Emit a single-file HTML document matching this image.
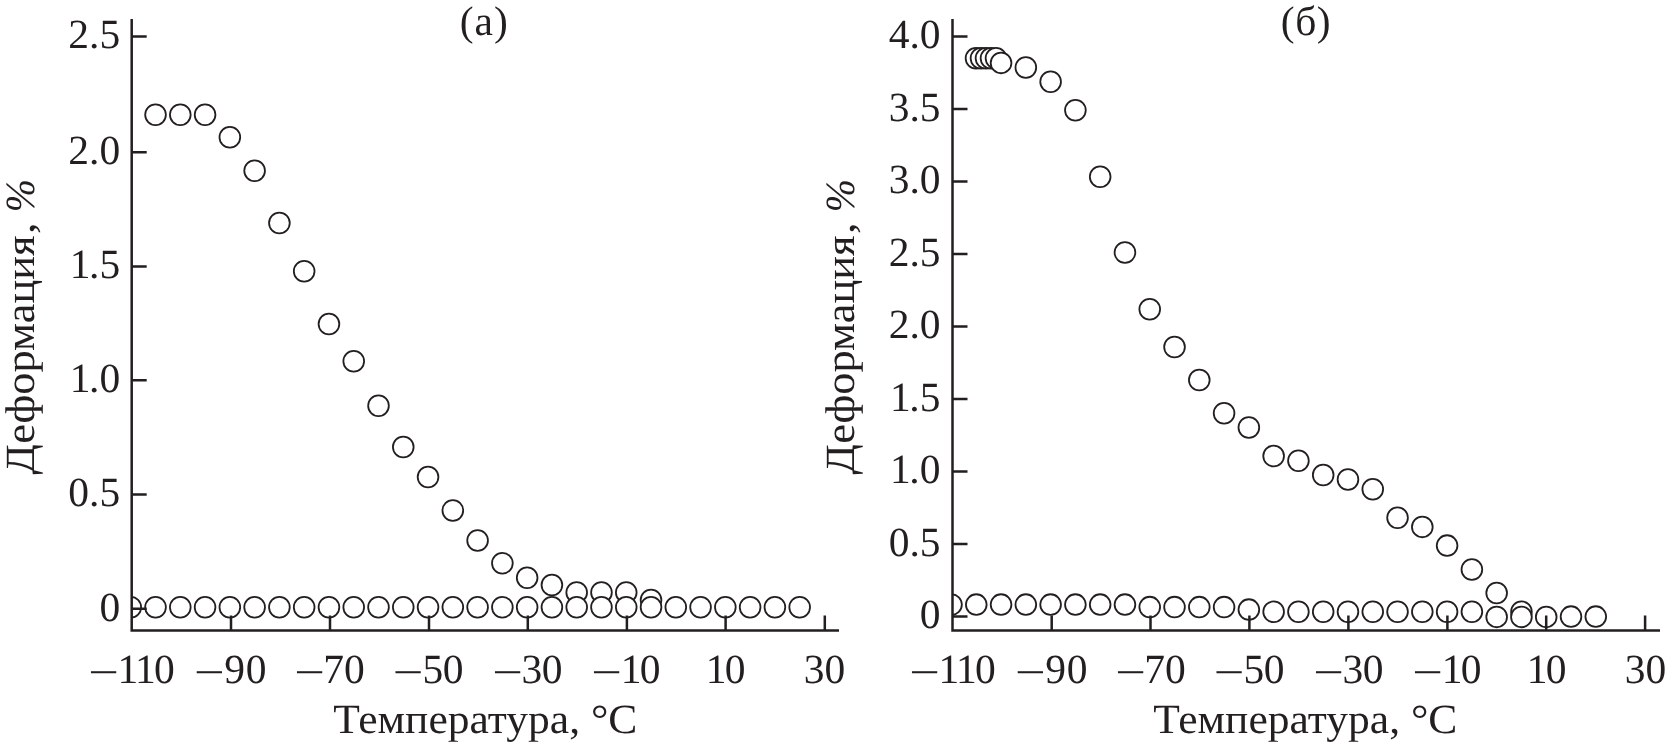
<!DOCTYPE html>
<html lang="ru"><head><meta charset="utf-8"><title>Деформация — Температура</title>
<style>html,body{margin:0;padding:0;background:#fff}body{width:1666px;height:746px;overflow:hidden}svg{display:block;will-change:transform}text{font-family:"Liberation Serif","Times New Roman",serif;font-size:41.5px;fill:#231f20;-webkit-font-smoothing:antialiased;text-rendering:geometricPrecision}.ax{stroke:#231f20;stroke-width:2.5;fill:none}.pt circle{fill:#fff;stroke:#231f20;stroke-width:1.8}</style></head><body>
<svg width="1666" height="746" viewBox="0 0 1666 746">
<rect width="1666" height="746" fill="#fff"/>
<defs><clipPath id="ca"><rect x="131.7" y="0" width="720" height="640"/></clipPath><clipPath id="cb"><rect x="952.5" y="0" width="720" height="640"/></clipPath></defs>
<g class="pt" clip-path="url(#ca)">
<circle cx="155.53" cy="114.75" r="10.35"/>
<circle cx="180.30" cy="114.75" r="10.35"/>
<circle cx="205.07" cy="114.75" r="10.35"/>
<circle cx="229.85" cy="137.25" r="10.35"/>
<circle cx="254.62" cy="170.75" r="10.35"/>
<circle cx="279.40" cy="223.00" r="10.35"/>
<circle cx="304.17" cy="271.25" r="10.35"/>
<circle cx="328.95" cy="324.00" r="10.35"/>
<circle cx="353.73" cy="361.25" r="10.35"/>
<circle cx="378.50" cy="405.75" r="10.35"/>
<circle cx="403.27" cy="447.00" r="10.35"/>
<circle cx="428.05" cy="477.00" r="10.35"/>
<circle cx="452.82" cy="510.50" r="10.35"/>
<circle cx="477.60" cy="540.50" r="10.35"/>
<circle cx="502.38" cy="563.25" r="10.35"/>
<circle cx="527.15" cy="577.75" r="10.35"/>
<circle cx="551.92" cy="585.00" r="10.35"/>
<circle cx="576.70" cy="592.40" r="10.35"/>
<circle cx="601.47" cy="592.40" r="10.35"/>
<circle cx="626.25" cy="592.40" r="10.35"/>
<circle cx="651.02" cy="600.00" r="10.35"/>
<circle cx="130.75" cy="607.30" r="10.35"/>
<circle cx="155.53" cy="607.30" r="10.35"/>
<circle cx="180.30" cy="607.30" r="10.35"/>
<circle cx="205.07" cy="607.30" r="10.35"/>
<circle cx="229.85" cy="607.30" r="10.35"/>
<circle cx="254.62" cy="607.30" r="10.35"/>
<circle cx="279.40" cy="607.30" r="10.35"/>
<circle cx="304.17" cy="607.30" r="10.35"/>
<circle cx="328.95" cy="607.30" r="10.35"/>
<circle cx="353.73" cy="607.30" r="10.35"/>
<circle cx="378.50" cy="607.30" r="10.35"/>
<circle cx="403.27" cy="607.30" r="10.35"/>
<circle cx="428.05" cy="607.30" r="10.35"/>
<circle cx="452.82" cy="607.30" r="10.35"/>
<circle cx="477.60" cy="607.30" r="10.35"/>
<circle cx="502.38" cy="607.30" r="10.35"/>
<circle cx="527.15" cy="607.30" r="10.35"/>
<circle cx="551.92" cy="607.30" r="10.35"/>
<circle cx="576.70" cy="607.30" r="10.35"/>
<circle cx="601.47" cy="607.30" r="10.35"/>
<circle cx="626.25" cy="607.30" r="10.35"/>
<circle cx="651.02" cy="607.30" r="10.35"/>
<circle cx="675.80" cy="607.30" r="10.35"/>
<circle cx="700.57" cy="607.30" r="10.35"/>
<circle cx="725.35" cy="607.30" r="10.35"/>
<circle cx="750.12" cy="607.30" r="10.35"/>
<circle cx="774.90" cy="607.30" r="10.35"/>
<circle cx="799.67" cy="607.30" r="10.35"/>
</g>
<g class="pt" clip-path="url(#cb)">
<circle cx="976.00" cy="58.20" r="10.35"/>
<circle cx="981.00" cy="58.20" r="10.35"/>
<circle cx="986.00" cy="58.20" r="10.35"/>
<circle cx="991.00" cy="58.20" r="10.35"/>
<circle cx="996.00" cy="58.20" r="10.35"/>
<circle cx="1001.06" cy="62.90" r="10.35"/>
<circle cx="1025.84" cy="67.50" r="10.35"/>
<circle cx="1050.62" cy="81.70" r="10.35"/>
<circle cx="1075.40" cy="110.30" r="10.35"/>
<circle cx="1100.18" cy="176.75" r="10.35"/>
<circle cx="1124.96" cy="252.50" r="10.35"/>
<circle cx="1149.74" cy="309.25" r="10.35"/>
<circle cx="1174.52" cy="347.00" r="10.35"/>
<circle cx="1199.30" cy="380.00" r="10.35"/>
<circle cx="1224.08" cy="413.25" r="10.35"/>
<circle cx="1248.86" cy="427.50" r="10.35"/>
<circle cx="1273.64" cy="456.00" r="10.35"/>
<circle cx="1298.42" cy="460.75" r="10.35"/>
<circle cx="1323.20" cy="475.00" r="10.35"/>
<circle cx="1347.98" cy="479.50" r="10.35"/>
<circle cx="1372.76" cy="489.25" r="10.35"/>
<circle cx="1397.54" cy="517.75" r="10.35"/>
<circle cx="1422.32" cy="526.90" r="10.35"/>
<circle cx="1447.10" cy="545.60" r="10.35"/>
<circle cx="1471.88" cy="569.50" r="10.35"/>
<circle cx="1496.66" cy="593.00" r="10.35"/>
<circle cx="1521.44" cy="611.80" r="10.35"/>
<circle cx="951.50" cy="604.60" r="10.35"/>
<circle cx="976.28" cy="604.60" r="10.35"/>
<circle cx="1001.06" cy="604.60" r="10.35"/>
<circle cx="1025.84" cy="604.60" r="10.35"/>
<circle cx="1050.62" cy="604.60" r="10.35"/>
<circle cx="1075.40" cy="604.60" r="10.35"/>
<circle cx="1100.18" cy="604.60" r="10.35"/>
<circle cx="1124.96" cy="604.60" r="10.35"/>
<circle cx="1149.74" cy="607.10" r="10.35"/>
<circle cx="1174.52" cy="607.10" r="10.35"/>
<circle cx="1199.30" cy="607.10" r="10.35"/>
<circle cx="1224.08" cy="607.10" r="10.35"/>
<circle cx="1248.86" cy="609.60" r="10.35"/>
<circle cx="1273.64" cy="611.80" r="10.35"/>
<circle cx="1298.42" cy="611.80" r="10.35"/>
<circle cx="1323.20" cy="611.80" r="10.35"/>
<circle cx="1347.98" cy="611.80" r="10.35"/>
<circle cx="1372.76" cy="611.80" r="10.35"/>
<circle cx="1397.54" cy="611.80" r="10.35"/>
<circle cx="1422.32" cy="611.80" r="10.35"/>
<circle cx="1447.10" cy="611.80" r="10.35"/>
<circle cx="1471.88" cy="611.80" r="10.35"/>
<circle cx="1496.66" cy="616.90" r="10.35"/>
<circle cx="1521.44" cy="616.90" r="10.35"/>
<circle cx="1546.22" cy="616.90" r="10.35"/>
<circle cx="1571.00" cy="616.60" r="10.35"/>
<circle cx="1595.78" cy="616.60" r="10.35"/>
</g>
<path class="ax" d="M131.70 19.0 V630.4 H839.00"/>
<path class="ax" d="M131.70 36.40 h15 M131.70 152.20 h15 M131.70 266.50 h15 M131.70 380.25 h15 M131.70 494.40 h15 M131.70 608.70 h15 M231.00 630.4 v-15 M330.00 630.4 v-15 M429.00 630.4 v-15 M527.80 630.4 v-15 M626.90 630.4 v-15 M725.60 630.4 v-15 M824.80 630.4 v-15"/>
<path class="ax" d="M952.50 19.0 V630.4 H1660.00"/>
<path class="ax" d="M952.50 616.50 h15 M952.50 543.99 h15 M952.50 471.48 h15 M952.50 398.97 h15 M952.50 326.46 h15 M952.50 253.95 h15 M952.50 181.44 h15 M952.50 108.93 h15 M952.50 36.42 h15 M1051.70 630.4 v-15 M1150.50 630.4 v-15 M1249.40 630.4 v-15 M1348.40 630.4 v-15 M1447.40 630.4 v-15 M1546.20 630.4 v-15 M1645.10 630.4 v-15"/>
<text x="120.20" y="48.20" text-anchor="end">2.5</text>
<text x="120.20" y="164.00" text-anchor="end">2.0</text>
<text x="69.72 89.07 99.45" y="278.30">1.5</text>
<text x="69.72 89.07 99.45" y="392.05">1.0</text>
<text x="120.20" y="506.20" text-anchor="end">0.5</text>
<text x="120.20" y="620.50" text-anchor="end">0</text>
<text x="940.50" y="628.30" text-anchor="end">0</text>
<text x="940.50" y="555.79" text-anchor="end">0.5</text>
<text x="890.02 909.37 919.75" y="483.28">1.0</text>
<text x="890.02 909.37 919.75" y="410.77">1.5</text>
<text x="940.50" y="338.26" text-anchor="end">2.0</text>
<text x="940.50" y="265.75" text-anchor="end">2.5</text>
<text x="940.50" y="193.24" text-anchor="end">3.0</text>
<text x="940.50" y="120.73" text-anchor="end">3.5</text>
<text x="940.50" y="48.22" text-anchor="end">4.0</text>
<text x="88.19" y="685.90" textLength="30.66" lengthAdjust="spacingAndGlyphs">−</text>
<text x="117.60 134.94 153.88" y="683.20">110</text>
<text x="193.99" y="685.90" textLength="30.66" lengthAdjust="spacingAndGlyphs">−</text>
<text x="224.25 245.77" y="683.20">90</text>
<text x="294.29" y="685.90" textLength="30.66" lengthAdjust="spacingAndGlyphs">−</text>
<text x="323.21 344.08" y="683.20">70</text>
<text x="392.89" y="685.90" textLength="30.66" lengthAdjust="spacingAndGlyphs">−</text>
<text x="422.38 442.67" y="683.20">50</text>
<text x="492.29" y="685.90" textLength="30.66" lengthAdjust="spacingAndGlyphs">−</text>
<text x="521.54 541.67" y="683.20">30</text>
<text x="591.19" y="685.90" textLength="30.66" lengthAdjust="spacingAndGlyphs">−</text>
<text x="620.75 639.67" y="683.20">10</text>
<text x="705.70 724.83" y="683.20">10</text>
<text x="803.79 824.48" y="683.20">30</text>
<text x="909.19" y="685.90" textLength="30.66" lengthAdjust="spacingAndGlyphs">−</text>
<text x="938.59 955.95 974.88" y="683.20">110</text>
<text x="1014.99" y="685.90" textLength="30.66" lengthAdjust="spacingAndGlyphs">−</text>
<text x="1045.26 1066.78" y="683.20">90</text>
<text x="1115.29" y="685.90" textLength="30.66" lengthAdjust="spacingAndGlyphs">−</text>
<text x="1144.20 1165.07" y="683.20">70</text>
<text x="1213.89" y="685.90" textLength="30.66" lengthAdjust="spacingAndGlyphs">−</text>
<text x="1243.38 1263.68" y="683.20">50</text>
<text x="1313.29" y="685.90" textLength="30.66" lengthAdjust="spacingAndGlyphs">−</text>
<text x="1342.54 1362.68" y="683.20">30</text>
<text x="1412.19" y="685.90" textLength="30.66" lengthAdjust="spacingAndGlyphs">−</text>
<text x="1441.75 1460.68" y="683.20">10</text>
<text x="1526.70 1545.82" y="683.20">10</text>
<text x="1624.79 1645.47" y="683.20">30</text>
<text transform="translate(333.21 733.2) scale(1.05 1)">Температура, °C</text>
<text transform="translate(1153.21 733.2) scale(1.05 1)">Температура, °C</text>
<text x="459.75 474.39 493.98" y="34.80">(а)</text>
<text x="1280.85 1295.26 1316.75" y="34.80">(б)</text>
<text transform="translate(34.4 474.6) rotate(-90) scale(1.07 1)">Деформация</text>
<text transform="translate(34.4 233.9) rotate(-90) scale(1.12 1)">,</text>
<text transform="translate(34.4 212.2) rotate(-90) scale(0.96 1)" font-style="italic">%</text>
<text transform="translate(854.3 474.6) rotate(-90) scale(1.07 1)">Деформация</text>
<text transform="translate(854.3 233.9) rotate(-90) scale(1.12 1)">,</text>
<text transform="translate(854.3 212.2) rotate(-90) scale(0.96 1)" font-style="italic">%</text>
</svg></body></html>
